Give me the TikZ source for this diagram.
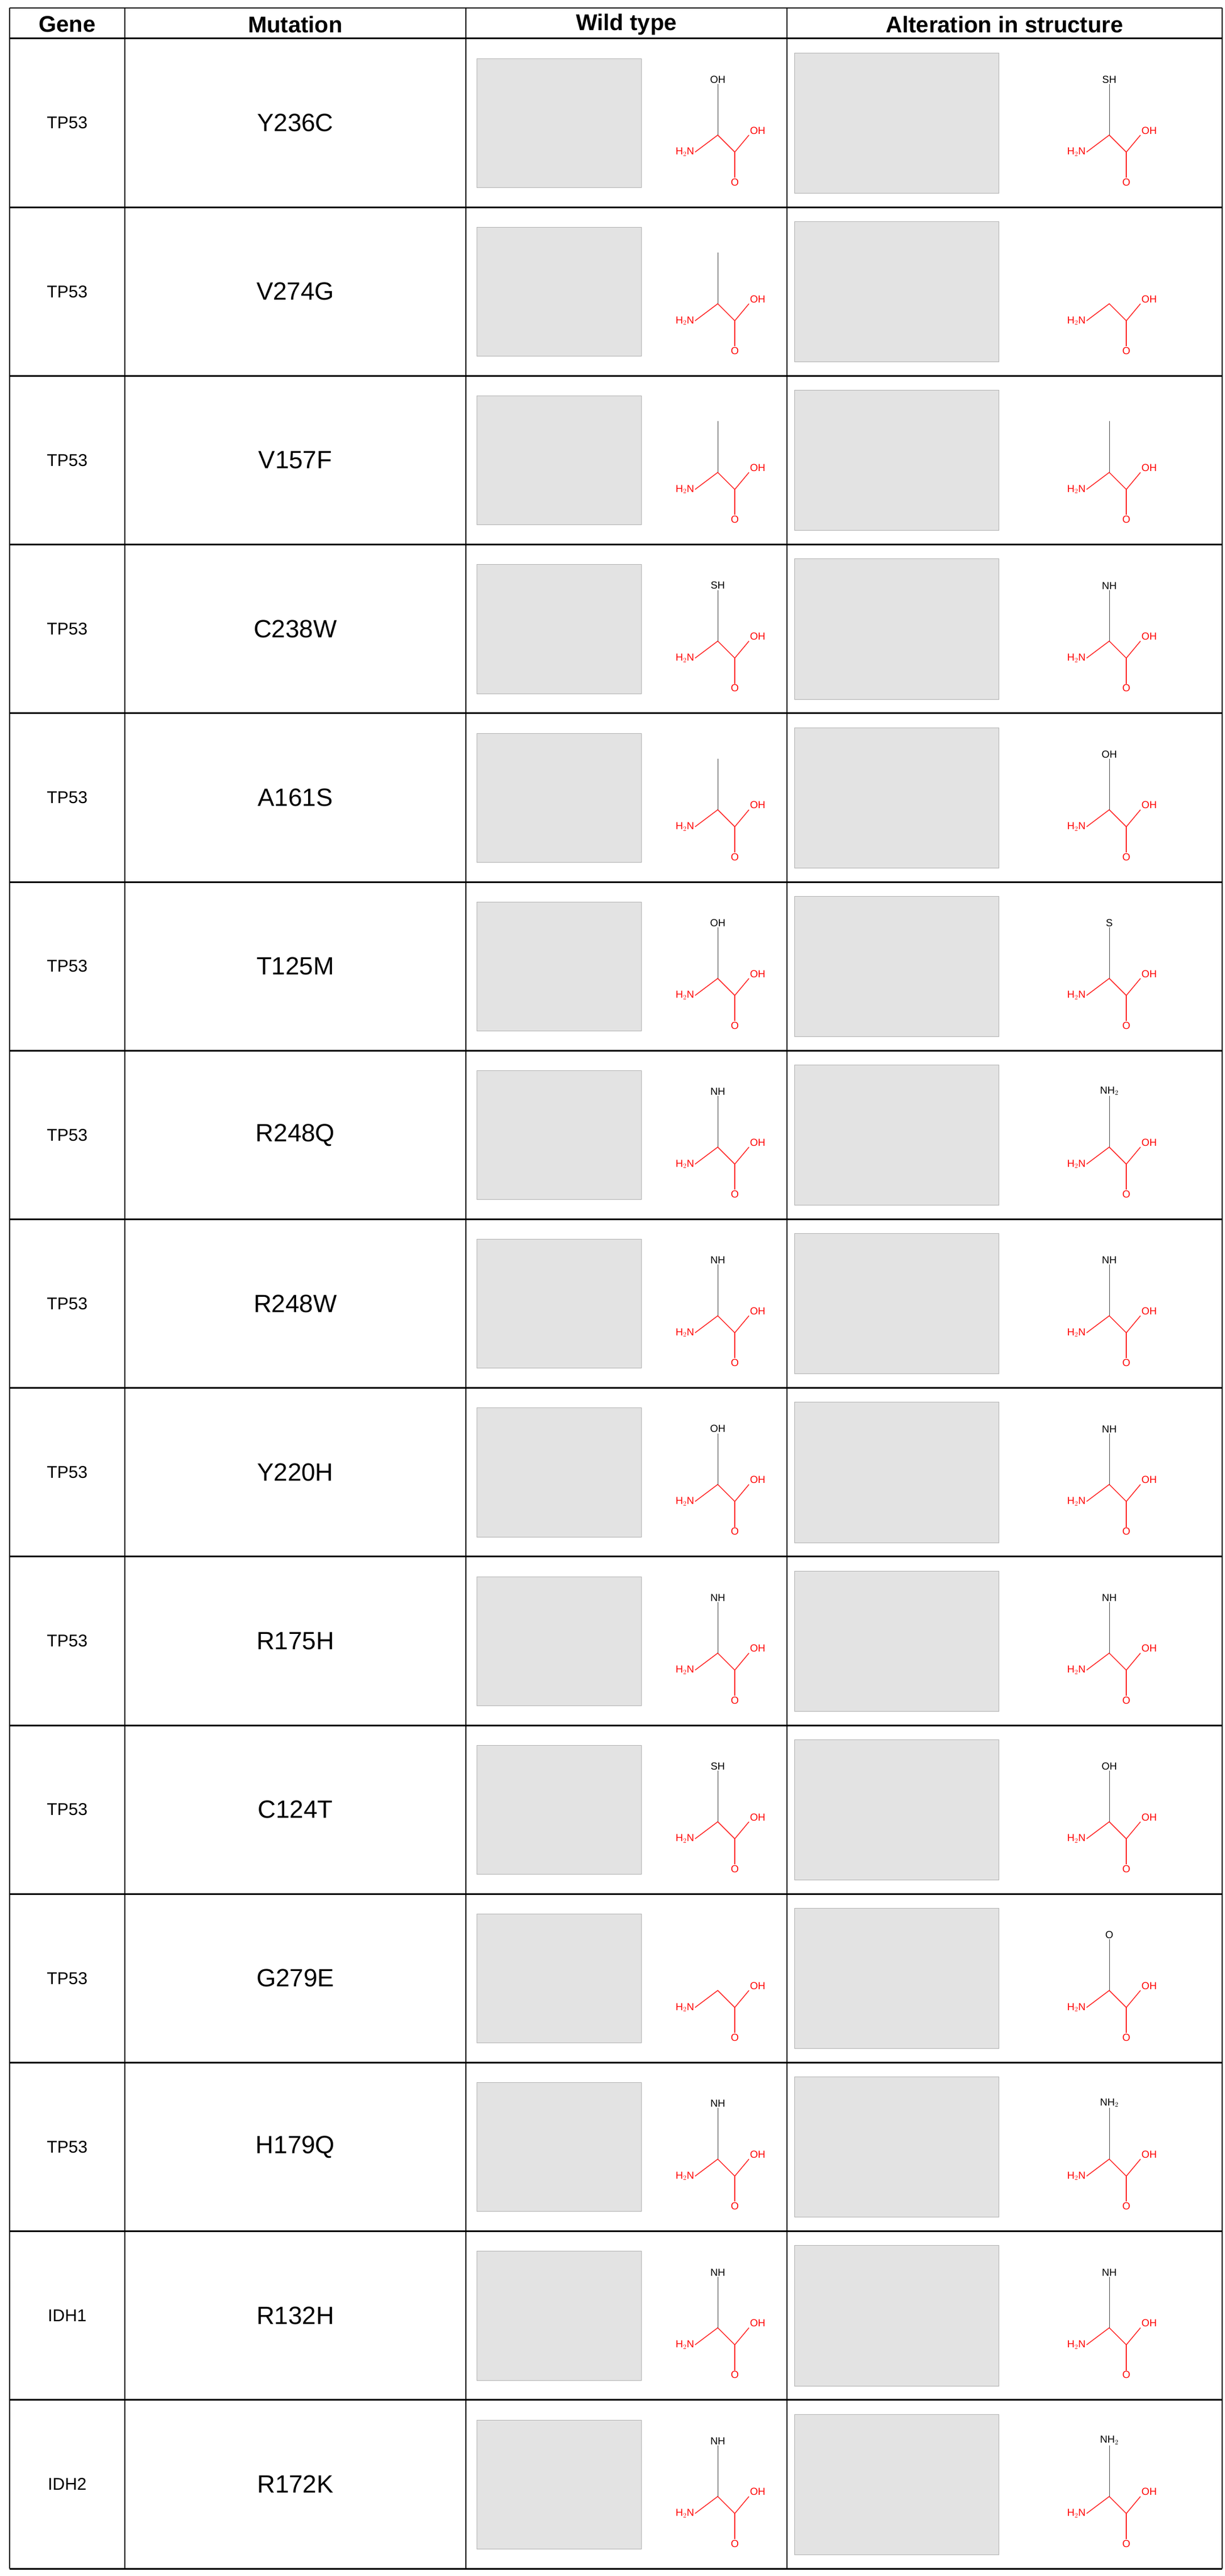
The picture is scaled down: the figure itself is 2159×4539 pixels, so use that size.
\documentclass[tikz,border=0pt]{standalone}
\usepackage{fontspec}
\setmainfont{Liberation Sans}
\begin{document}
\begin{tikzpicture}[x=1pt,y=-1pt,
  hdr/.style={font=\fontsize{40}{44}\selectfont\bfseries},
  gene/.style={font=\fontsize{30}{34}\selectfont},
  mut/.style={font=\fontsize{44}{48}\selectfont},
  img/.style={fill=gray!22,draw=gray!60},
  chem/.style={red!85,line width=1.5pt},
  side/.style={black!70,line width=1pt},
  ctext/.style={font=\fontsize{18}{20}\selectfont,inner sep=1pt}]
\useasboundingbox (0,0) rectangle (2159,4539);
\def\xa{17}\def\xb{220}\def\xc{821}\def\xd{1387}\def\xe{2154}
\def\ytop{14}\def\yh{68}\def\rh{297.2}
\def\nosc{x}
% amino acid: #1 x, #2 y (alpha C), #3 side label (x = none)
\newcommand\aminoac[3]{%
  \draw[chem] (#1-40,#2+30) node[ctext,red,left]{H$_2$N} -- (#1,#2) -- (#1+30,#2+30) -- (#1+55,#2) node[ctext,red,above right]{OH};
  \draw[chem] (#1+30,#2+30) -- (#1+30,#2+75) node[ctext,red,below]{O};
  \edef\tmpsc{#3}%
  \ifx\tmpsc\nosc\else
  \draw[side] (#1,#2) -- (#1,#2-90) node[ctext,black,above]{#3};\fi}
\foreach \g/\m/\w/\a [count=\i from 0] in {
 TP53/Y236C/OH/SH, TP53/V274G//x, TP53/V157F//{},
 TP53/C238W/SH/NH, TP53/A161S//OH, TP53/T125M/OH/S,
 TP53/R248Q/NH/NH$_2$, TP53/R248W/NH/NH, TP53/Y220H/OH/NH,
 TP53/R175H/NH/NH, TP53/C124T/SH/OH, TP53/G279E/x/O,
 TP53/H179Q/NH/NH$_2$, IDH1/R132H/NH/NH, IDH2/R172K/NH/NH$_2$}{
  \pgfmathsetmacro\yt{\yh+\i*\rh}
  \pgfmathsetmacro\ym{\yt+\rh/2}
  \node[gene] (g\i) at ({(\xa+\xb)/2},\ym) {\g};
  \node[mut] (m\i) at ({(\xb+\xc)/2},\ym) {\m};
  \fill[img] (840,\yt+35) rectangle (1130,\yt+\rh-35);
  \fill[img] (1400,\yt+25) rectangle (1760,\yt+\rh-25);
  \aminoac{1265}{\yt+170}{\w}
  \aminoac{1955}{\yt+170}{\a}
  \draw[line width=3pt] (\xa,\yt+\rh) -- (\xe,\yt+\rh);
}
\node[hdr] (h1) at ({(\xa+\xb)/2},43) {Gene};
\node[hdr] (h2) at ({(\xb+\xc)/2},43) {Mutation};
\node[hdr] (h3) at ({(\xc+\xd)/2},43) {Wild type};
\node[hdr] (h4) at ({(\xd+\xe)/2},43) {Alteration in structure};
\draw[line width=2.5pt] (\xa,\ytop) -- (\xe,\ytop);
\draw[line width=3pt] (\xa,\yh) -- (\xe,\yh);
\foreach \x in {\xa,\xb,\xc,\xd,\xe} \draw[line width=1.5pt] (\x,\ytop) -- (\x,4526);
\end{tikzpicture}
\end{document}
